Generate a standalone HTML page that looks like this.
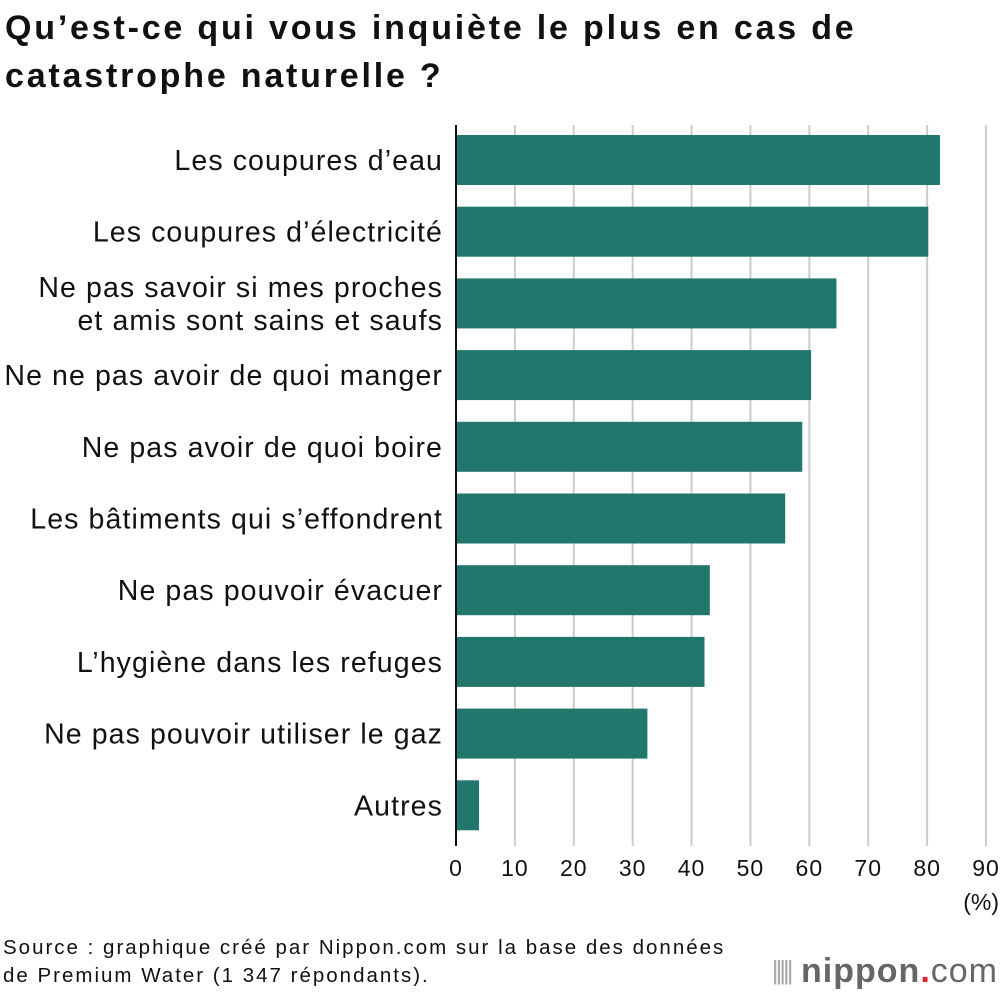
<!DOCTYPE html>
<html><head><meta charset="utf-8">
<style>
body{margin:0;background:#fff;font-family:"Liberation Sans",sans-serif;}
#wrap{position:relative;width:1000px;height:994px;overflow:hidden;}
h1{position:absolute;left:5px;top:4px;margin:0;font-size:34px;line-height:48px;font-weight:bold;color:#111;letter-spacing:2.8px;}
.src{position:absolute;left:3px;top:934px;font-size:20.5px;line-height:28px;color:#111;letter-spacing:2px;}
.logo{position:absolute;right:2px;top:952px;font-size:34px;color:#666;font-weight:bold;letter-spacing:1px;}
</style></head><body>
<div id="wrap">
<h1>Qu’est-ce qui vous inquiète le plus en cas de<br>catastrophe naturelle ?</h1>
<svg id="chart" width="1000" height="994" style="position:absolute;left:0;top:0"></svg>
<div class="src">Source : graphique créé par Nippon.com sur la base des données<br>de Premium Water (1 347 répondants).</div>
<div class="logo"><span style="font-weight:normal;color:#aaa;font-size:26px;letter-spacing:-3px;vertical-align:3px">|||||</span> nippon<span style="color:#e0242b">.</span><span style="font-weight:normal">com</span></div>
</div>
<script>
const categories=[["Les coupures d’eau"],["Les coupures d’électricité"],["Ne pas savoir si mes proches","et amis sont sains et saufs"],["Ne ne pas avoir de quoi manger"],["Ne pas avoir de quoi boire"],["Les bâtiments qui s’effondrent"],["Ne pas pouvoir évacuer"],["L’hygiène dans les refuges"],["Ne pas pouvoir utiliser le gaz"],["Autres"]];
const values=[82.2,80.2,64.6,60.3,58.8,55.9,43.1,42.2,32.5,3.9];
const ticks=[0,10,20,30,40,50,60,70,80,90];
const NS="http://www.w3.org/2000/svg";
const svg=document.getElementById('chart');
const x0=456,x1=986,vmax=90;
const xs=v=>x0+(v/vmax)*(x1-x0);
const top0=135,step=71.7,bh=50;
const ys=i=>top0+i*step;
function mk(t,a){const e=document.createElementNS(NS,t);for(const k in a)e.setAttribute(k,a[k]);svg.appendChild(e);return e;}
ticks.forEach(t=>{
 if(t>0){const g=mk('line',{x1:xs(t),x2:xs(t),y1:125,y2:846,stroke:'#cccccc','stroke-width':2});
 
 }
 const l=mk('text',{x:xs(t),y:876,'text-anchor':'middle','font-size':23,'letter-spacing':1,fill:'#111'});
 l.textContent=t;
 
 
});
const u=mk('text',{x:999,y:910,'text-anchor':'end','font-size':23,fill:'#111'});
u.textContent='(%)';


values.forEach((v,i)=>{
 const r=mk('rect',{x:x0,y:ys(i),width:xs(v)-x0,height:bh,fill:'#21776b'});
 
 
 const lines=categories[i];
 const cy=ys(i)+bh/2;
 lines.forEach((s,j)=>{
  const t=mk('text',{x:443,y:cy+10+(j-(lines.length-1)/2)*33,'text-anchor':'end','font-size':28.5,'letter-spacing':1.1,fill:'#111'});
  t.textContent=s;
  
  
 });
});
const ax=mk('line',{x1:x0,x2:x0,y1:125,y2:846,stroke:'#111','stroke-width':2});


</script>
</body></html>
